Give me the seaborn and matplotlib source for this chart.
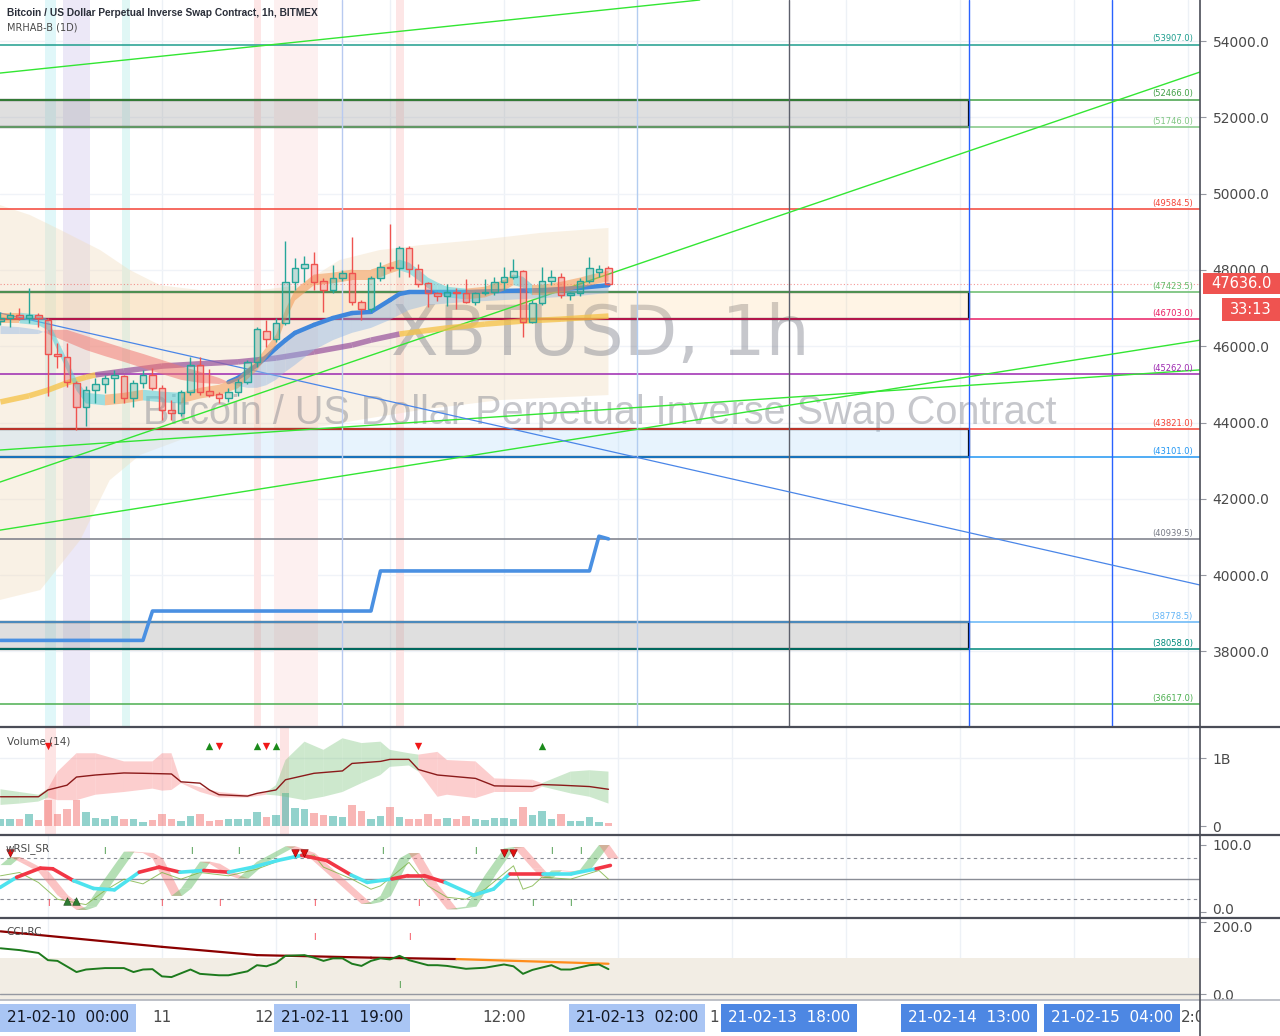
import matplotlib
matplotlib.use("Agg")
import numpy as np
import pandas as pd
import matplotlib.pyplot as plt
import matplotlib.colors as mcolors
import matplotlib.transforms as mtransforms
from matplotlib.patches import Rectangle, Polygon
from matplotlib.lines import Line2D
from matplotlib.ticker import FixedLocator, FixedFormatter
import seaborn as sns

sns.set_theme(style="white")
plt.rcParams['font.family'] = ['DejaVu Sans']

# ---------------- data (hours since 2021-02-10 00:00) ----------------
hours = list(range(7, 72))
opens = [46650, 46740, 46820, 46750, 46820, 46690, 45800, 45720, 45040, 44410,
         44850, 45010, 45160, 45220, 44640, 45040, 45250, 44900, 44330, 44250,
         44800, 45510, 44830, 44740, 44640, 44800, 45060, 45590, 46400, 46200,
         46610, 47680, 48050, 48160, 47700, 47470, 47790, 47920, 47160, 46980,
         47790, 48080, 48050, 48570, 48030, 47650, 47400, 47320, 47420, 47400,
         47160, 47400, 47420, 47680, 47820, 47970, 46640, 47130, 47710, 47820,
         47340, 47400, 47710, 47950, 48050]
highs = [46900, 46900, 47000, 47520, 46880, 46740, 46080, 46080, 45100, 44950,
         45160, 45250, 45380, 45250, 45110, 45380, 45430, 44980, 44590, 44850,
         45720, 45730, 45400, 44800, 44900, 45150, 45640, 46500, 46690, 46740,
         48760, 48310, 48370, 48470, 47790, 48130, 48000, 48860, 47200, 47850,
         48210, 49200, 48630, 48620, 48150, 47680, 47420, 47630, 47530, 47760,
         47420, 47760, 47820, 48080, 48290, 48000, 47200, 48080, 48000, 47920,
         47420, 47790, 48340, 48130, 48100]
lows = [46560, 46500, 46700, 46600, 46500, 44700, 45430, 44930, 43810, 43900,
        44510, 44780, 44510, 44510, 44400, 44900, 44850, 44070, 44070, 44170,
        44720, 44720, 44670, 44500, 44550, 44700, 45000, 45460, 45980, 46100,
        46550, 47470, 47680, 47470, 46900, 47400, 47700, 47080, 46690, 46900,
        47700, 47980, 47820, 47820, 47550, 47030, 47190, 47060, 46980, 47130,
        47080, 47350, 47340, 47470, 47760, 46240, 46610, 47080, 47600, 47260,
        47210, 47320, 47650, 47810, 47600]
closes = [46740, 46820, 46750, 46820, 46740, 45800, 45740, 45060, 44410, 44850,
          45010, 45160, 45250, 44640, 45040, 45250, 44900, 44330, 44250, 44800,
          45510, 44810, 44720, 44640, 44800, 45060, 45590, 46450, 46200, 46610,
          47680, 48050, 48160, 47680, 47470, 47790, 47920, 47160, 46980, 47790,
          48080, 48040, 48570, 48030, 47630, 47400, 47320, 47420, 47400, 47160,
          47400, 47420, 47680, 47820, 47970, 46640, 47130, 47710, 47820, 47340,
          47400, 47710, 48050, 48020, 47636]
volume_m = [107, 98, 98, 172, 84, 382, 172, 245, 382, 201,
            118, 98, 143, 98, 98, 59, 84, 172, 98, 69,
            143, 172, 69, 84, 107, 98, 107, 201, 128, 157,
            490, 260, 250, 191, 157, 143, 128, 304, 216, 98,
            143, 275, 128, 107, 107, 181, 107, 118, 107, 143,
            98, 84, 118, 118, 98, 275, 157, 216, 98, 181,
            69, 69, 128, 54, 49]
last_price = 47636.0
countdown = "33:13"

price_ticks = [38000, 40000, 42000, 44000, 46000, 48000, 50000, 52000, 54000]

level_prices = [53907.0, 52466.0, 51746.0, 49584.5, 47423.5, 46703.0, 45262.0,
                43821.0, 43101.0, 40939.5, 38778.5, 38058.0, 36617.0]
level_colors = ['#1e9e8e', '#43a047', '#81c784', '#f44336', '#66bb6a', '#e91e63', '#9c27b0',
                '#f44336', '#2196f3', '#787b86', '#64b5f6', '#00897b', '#4caf50']

zone_low = [51746.0, 46703.0, 43101.0, 38058.0]
zone_high = [52466.0, 47423.5, 43821.0, 38778.5]
zone_fill = ['#9e9e9e', '#ffcc80', '#bbdefb', '#9e9e9e']
zone_alpha = [0.32, 0.2, 0.35, 0.32]
zone_end_hour = 109

trend_green_h = [[6.95, 80.6], [6.95, 133.3], [6.95, 133.3], [6.95, 133.3]]
trend_green_p = [[53160, 55075], [42440, 53190], [41180, 46160], [43280, 45380]]
trend_blue_h = [6.95, 133.3]
trend_blue_p = [46870, 39740]

mrhab_h = [7, 22, 23, 46, 47, 69, 70, 71]
mrhab_p = [38290, 38290, 39060, 39060, 40110, 40110, 41020, 40950]

env_top_h = [6.95, 10.1, 13.3, 17.5, 20.6, 23.8, 28, 34.3, 38.5, 42.7, 46.9, 51.2, 57.5, 63.8, 71]
env_top_p = [49700, 49440, 49050, 48520, 48000, 47600, 47470, 47470, 47600, 48260, 48520,
             48650, 48790, 48970, 49100]
env_bot_h = [6.95, 11.2, 15.4, 18.5, 21.7, 25.9, 32.2, 38.5, 44.8, 51.2, 59.6, 71]
env_bot_p = [39350, 39610, 40920, 42490, 43150, 43540, 43670, 43800, 44070, 44330, 44590, 44720]

r1_h = [7, 9, 11, 12, 13, 14, 15, 16, 18, 20, 22, 24, 26, 28, 30, 32, 34, 36, 37, 38, 40, 42,
        44, 46, 47, 48, 49, 50, 51, 52, 53, 54, 56, 58, 60, 61, 62, 63, 64, 66, 68, 70, 71]
r1_p = [46740, 46740, 46690, 46560, 46030, 45510, 44980, 44640, 44590, 44640, 44720, 44670,
        44640, 44770, 44850, 45040, 45510, 46160, 46820, 47340, 47740, 47790, 47870, 47870,
        47950, 48050, 48130, 48050, 47870, 47660, 47530, 47420, 47370, 47420, 47600, 47740,
        47680, 47470, 47470, 47550, 47660, 47790, 47840]

r2_h = [7, 9, 11, 12, 14, 16, 18, 20, 22, 24, 26, 28, 30, 31, 32, 33, 34, 35, 36, 37, 38, 40,
        42, 44, 46, 48, 49, 50, 52, 56, 60, 64, 68, 71]
r2_a = [46530, 46500, 46430, 46320, 46110, 45900, 45740, 45590, 45430, 45270, 45120, 45040,
        45010, 45060, 45170, 45330, 45510, 45720, 45950, 46160, 46350, 46560, 46740, 46870,
        46900, 47210, 47370, 47420, 47420, 47420, 47450, 47470, 47530, 47600]
r2_b = [46320, 46320, 46320, 46430, 46430, 46270, 46110, 45950, 45800, 45640, 45480, 45330,
        45170, 45060, 44960, 44910, 44910, 44980, 45120, 45330, 45510, 45900, 46160, 46350,
        46480, 46690, 46820, 46950, 47080, 47160, 47210, 47260, 47320, 47400]

l3_h = [7, 10, 12, 14, 16, 17, 20, 24, 28, 32, 36, 40, 44, 46, 49, 54, 58, 62, 66, 71]
l3_p = [44540, 44700, 44850, 45040, 45190, 45250, 45350, 45480, 45540, 45590, 45690, 45850,
        46030, 46160, 46320, 46480, 46580, 46660, 46710, 46790]

vb_h = [7, 9, 11, 12, 13, 15, 17, 20, 23, 24, 25, 26, 28, 30, 33, 35, 36, 37, 39, 41, 43, 45,
        47, 48, 50, 51, 53, 54, 57, 59, 63, 64, 67, 69, 71]
vb_up = [0.54, 0.50, 0.46, 0.55, 0.80, 1.07, 1.07, 0.95, 0.95, 1.07, 1.07, 0.65, 0.57, 0.50,
         0.46, 0.50, 0.60, 0.97, 1.24, 1.12, 1.29, 1.22, 1.24, 1.12, 1.07, 1.05, 1.09, 0.97,
         0.95, 0.70, 0.68, 0.63, 0.80, 0.82, 0.80]
vb_lo = [0.31, 0.33, 0.36, 0.42, 0.38, 0.38, 0.46, 0.50, 0.55, 0.52, 0.53, 0.63, 0.50, 0.42,
         0.42, 0.46, 0.45, 0.43, 0.38, 0.43, 0.50, 0.63, 0.75, 0.87, 0.89, 0.80, 0.43, 0.46,
         0.41, 0.50, 0.50, 0.58, 0.48, 0.43, 0.33]
vb_state = ['g', 'g', 'g', 'r', 'r', 'r', 'r', 'r', 'r', 'r', 'r', 'r', 'r', 'r', 'r', 'g', 'g',
            'g', 'g', 'g', 'g', 'g', 'g', 'g', 'g', 'r', 'r', 'r', 'r', 'r', 'r', 'g', 'g', 'g', 'g']
vl_h = [7, 11, 12, 14, 15, 17, 20, 22, 25, 26, 28, 29, 30, 33, 34, 36, 37, 40, 43, 44, 47, 48,
        50, 51, 53, 57, 59, 63, 64, 66, 69, 71]
vl_v = [0.43, 0.43, 0.53, 0.60, 0.72, 0.75, 0.78, 0.775, 0.765, 0.65, 0.63, 0.53, 0.46, 0.44,
        0.48, 0.53, 0.68, 0.775, 0.81, 0.92, 0.95, 0.98, 0.98, 0.83, 0.75, 0.70, 0.59, 0.58,
        0.61, 0.60, 0.58, 0.54]
vol_tri_up = [29, 34, 36, 64]
vol_tri_down = [12, 30, 35, 51]

rsi_h = [6.95, 8.7, 11.2, 12.5, 14.7, 16.8, 19, 21.6, 23.7, 25.9, 28.4, 31, 33.6, 36.2, 38.7,
         41.3, 43.9, 45.6, 48.2, 49.9, 51.6, 53.8, 56.8, 58.9, 60.6, 64.1, 67.1, 69.7, 71.2]
rsi_v = [36.6, 51.8, 65.5, 64.5, 46.7, 35.1, 33.1, 59.4, 67, 59.4, 62, 59.4, 67, 77, 84.6, 77,
         55.3, 44.2, 49.3, 54.3, 54.3, 44.2, 25.1, 34.2, 56.9, 56.9, 56.9, 64.5, 69.5]
rsi_state = ['c', 'r', 'r', 'r', 'c', 'c', 'c', 'r', 'r', 'c', 'r', 'c', 'c', 'c', 'r', 'r', 'c',
             'c', 'r', 'r', 'r', 'c', 'c', 'c', 'r', 'c', 'c', 'r', 'r']
fast_h = [7, 8, 9, 11, 13, 15, 16, 18, 20, 22, 23, 25, 26, 28, 29, 31, 32, 34, 37, 39, 42, 45,
          46, 47, 49, 50, 52, 54, 56, 58, 60, 61, 63, 64, 65, 67, 68, 70, 71]
fast_v = [70, 82, 75, 60, 25, 3, 8, 50, 90, 88, 80, 24, 35, 75, 72, 55, 50, 75, 98, 88, 50, 12,
          15, 24, 80, 88, 40, 4, 8, 55, 95, 97, 65, 50, 62, 60, 63, 100, 80]
thin_h = [7, 9, 11, 13, 16, 18, 20, 22, 24, 26, 28, 31, 34, 37, 40, 41, 44, 46, 47, 50, 52, 54,
          56, 58, 61, 62, 63, 64, 67, 70, 71]
thin_v = [54, 59, 44, 19, 11, 32, 49, 42, 59, 49, 59, 54, 64, 80, 85, 67, 49, 34, 39, 74, 39, 22,
          19, 34, 69, 34, 39, 52, 49, 62, 49]
rsi_top_green_i = [17.9, 27.1, 32, 47.2, 57, 65, 68]
rsi_bot_red_i = [12, 23.9, 30, 40, 51]
rsi_bot_green_i = [63, 67]
rsi_tri_down = [8, 38, 39, 60, 61]
rsi_tri_up = [14, 15]

cci_h = [7, 9, 11, 12, 13, 15, 16, 18, 20, 21, 22, 23, 24, 25, 27, 28, 30, 31, 33, 34, 35, 36,
         37, 39, 40, 41, 42, 43, 44, 45, 46, 47, 48, 49, 50, 52, 53, 54, 56, 58, 60, 61, 62, 63,
         65, 66, 67, 69, 70, 71]
cci_v = [127, 122, 114, 94, 92, 61, 68, 72, 72, 61, 68, 69, 49, 47, 68, 56, 52, 52, 63, 80, 77,
         86, 106, 108, 101, 92, 99, 99, 84, 78, 92, 99, 96, 106, 94, 80, 80, 78, 70, 73, 82, 77,
         56, 67, 80, 68, 68, 80, 82, 69]
cci_slow_h = [7, 11, 24, 34, 46, 55, 71]
cci_slow_v = [174, 164, 131, 108, 101, 97, 84]
cci_red_i = [40, 50]
cci_green_i = [38, 49]

bands_main = [(11.7, 12.8, '#e0f7f9'), (13.6, 16.4, '#ece8f7'), (19.8, 20.6, '#e0f7f5'),
              (33.7, 34.4, '#fde6e6'), (35.8, 40.4, '#fdf0f0'), (48.6, 49.5, '#fde6e6')]
bands_vol = [(11.7, 12.8, '#fde4e4'), (36.4, 37.4, '#fde4e4')]
marker_lines_h = [43, 74, 90, 109, 124]
marker_lines_c = ['#b8caf0', '#b3cdf0', '#5d606b', '#2962ff', '#2962ff']

# time-axis labels: fully visible ones, and the visible parts of labels half covered by boxes
time_plain = [(24, '11', 'center'), (60, '12:00', 'center')]
time_partial = [(35.7, '12', 'right'), (82.6, '1', 'right'), (131.3, '2:0', 'left')]
time_boxes = [(43, '21-02-11  19:00', 'light'), (74, '21-02-13  02:00', 'light'),
              (90, '21-02-13  18:00', 'dark'), (109, '21-02-14  13:00', 'dark'),
              (124, '21-02-15  04:00', 'dark')]
first_box_label = '21-02-10  00:00'

# ---------------- layout ----------------
W, H = 1280, 1036
PX_PER_H = 9.5
X0_H = 6.95
X1_H = X0_H + 1200 / PX_PER_H
GREEN, RED = '#26a69a', '#ef5350'

fig = plt.figure(figsize=(W / 100, H / 100), dpi=100)
fig.patch.set_facecolor('white')


def fy(py):
    return 1 - py / H


def panel(top, bot):
    ax = fig.add_axes([0, fy(bot), 1200 / W, (bot - top) / H])
    for s in ax.spines.values():
        s.set_visible(False)
    ax.set_facecolor('white')
    ax.xaxis.set_visible(False)
    ax.yaxis.tick_right()
    ax.tick_params(axis='y', which='both', length=4, width=0.8, color='#9598a1',
                   labelsize=10, labelcolor='#4a4a4a', pad=5, right=True, left=False)
    for hh in range(12, 134, 12):
        ax.axvline(hh, color='#edf1f6', lw=1, zorder=0)
    return ax


def nudge_label(axis_obj, index, dy_pt):
    fig.canvas.draw()
    lab = axis_obj.yaxis.get_ticklabels()[index]
    lab.set_transform(lab.get_transform() +
                      mtransforms.ScaledTranslation(0, dy_pt / 72, fig.dpi_scale_trans))


# ---------------- main price panel ----------------
ax = panel(0, 727)
for p in price_ticks:
    ax.axhline(p, color='#f0f3f8', lw=1, zorder=0)
for a, b, c in bands_main:
    ax.axvspan(a, b, color=c, lw=0, zorder=0.5)

env_poly = list(zip(env_top_h, env_top_p)) + list(zip(env_bot_h[::-1], env_bot_p[::-1]))
ax.add_patch(Polygon(env_poly, closed=True, facecolor='#f0d9b5', alpha=0.35, lw=0, zorder=1))

ax.text(600 / 1200, 1 - 355 / 727, 'XBTUSD, 1h', transform=ax.transAxes, ha='center',
        va='baseline', fontsize=50, color='#787b86', alpha=0.42, zorder=1.2)
ax.text(600 / 1200, 1 - 424 / 727, 'Bitcoin / US Dollar Perpetual Inverse Swap Contract',
        transform=ax.transAxes, ha='center', va='baseline', fontsize=28.5, color='#787b86',
        alpha=0.42, zorder=1.2, family=['Liberation Sans', 'DejaVu Sans'])

for lo, hi, fc, al in zip(zone_low, zone_high, zone_fill, zone_alpha):
    ax.add_patch(Rectangle((X0_H - 1, lo), zone_end_hour - X0_H + 1, hi - lo,
                           facecolor=mcolors.to_rgba(fc, al), edgecolor='black', lw=1.6, zorder=2))

for p, c in zip(level_prices, level_colors):
    ax.axhline(p, color=c, lw=1.1, zorder=3)
    ax.text(X0_H + 1193 / PX_PER_H, p + 30, f'({p:.1f})', ha='right', va='bottom',
            fontsize=6, color=c, zorder=9)

for mh, mc in zip(marker_lines_h, marker_lines_c):
    ax.axvline(mh, color=mc, lw=1, zorder=3)

for th, tp in zip(trend_green_h, trend_green_p):
    ax.plot(th, tp, color='#33e633', lw=1, zorder=4)
ax.plot(trend_blue_h, trend_blue_p, color='#4a86e8', lw=0.9, zorder=4)

# slow line (yellow / purple)
for i in range(len(l3_h) - 1):
    col = '#9c5aa0' if 17 <= l3_h[i] < 49 else '#f6c244'
    ax.plot(l3_h[i:i + 2], l3_p[i:i + 2], color=col, lw=4, alpha=0.75,
            solid_capstyle='butt', zorder=4)

# medium ribbon (red / blue)
for i in range(len(r2_h) - 1):
    pts = [(r2_h[i], r2_a[i]), (r2_h[i + 1], r2_a[i + 1]), (r2_h[i + 1], r2_b[i + 1]), (r2_h[i], r2_b[i])]
    bull = (r2_a[i] + r2_a[i + 1]) >= (r2_b[i] + r2_b[i + 1])
    ax.add_patch(Polygon(pts, closed=True, lw=0, zorder=4,
                         facecolor=mcolors.to_rgba('#8fb6e6' if bull else '#f07a74', 0.45 if bull else 0.55)))
for i in range(len(r2_h) - 1):
    if r2_h[i] >= 31 and r2_a[i] >= r2_b[i]:
        ax.plot(r2_h[i:i + 2], r2_a[i:i + 2], color='#3f87dc', lw=3.2, solid_capstyle='round', zorder=4.5)

# fast ribbon (orange / cyan)
w1 = 140
for i in range(len(r1_h) - 1):
    up = r1_p[i + 1] >= r1_p[i]
    pts = [(r1_h[i], r1_p[i] + w1), (r1_h[i + 1], r1_p[i + 1] + w1),
           (r1_h[i + 1], r1_p[i + 1] - w1), (r1_h[i], r1_p[i] - w1)]
    ax.add_patch(Polygon(pts, closed=True, lw=0, zorder=4.6,
                         facecolor=mcolors.to_rgba('#f59a55' if up else '#54cfdc', 0.55)))

# daily MRHAB step line (seaborn)
sns.lineplot(x=mrhab_h, y=mrhab_p, ax=ax, color='#4a90e2', lw=2.6, zorder=5, sort=False)

# candles
for hh, o, hi, lo, c in zip(hours, opens, highs, lows, closes):
    col = GREEN if c >= o else RED
    top, bot = max(o, c), min(o, c)
    ax.vlines(hh, top, hi, color=col, lw=1, zorder=6)
    ax.vlines(hh, lo, bot, color=col, lw=1, zorder=6)
    ax.add_patch(Rectangle((hh - 0.33, bot), 0.66, max(top - bot, 20),
                           facecolor=mcolors.to_rgba(col, 0.28), edgecolor=col, lw=1, zorder=6))

ax.axhline(last_price, color=RED, ls=(0, (1, 2)), lw=0.8, alpha=0.6, zorder=3)
ax.set_xlim(X0_H, X1_H)
ax.set_ylim(36020, 55075)
ax.yaxis.set_major_locator(FixedLocator(price_ticks))
ax.yaxis.set_major_formatter(FixedFormatter([f'{p:.1f}' for p in price_ticks]))
ax.set_xlabel('')
ax.set_ylabel('')

# ---------------- volume panel ----------------
axv = panel(727, 835)
for a, b, c in bands_vol:
    axv.axvspan(a, b, color=c, lw=0, zorder=0.5)
axv.axhline(1.0, color='#eef1f6', lw=1, zorder=0)
vcols = [mcolors.to_rgba(GREEN, 0.5) if c >= o else mcolors.to_rgba(RED, 0.42)
         for o, c in zip(opens, closes)]
axv.bar(hours, [v / 1000 for v in volume_m], width=0.8, color=vcols, lw=0, zorder=2)
for i in range(len(vb_h) - 1):
    pts = [(vb_h[i], vb_up[i]), (vb_h[i + 1], vb_up[i + 1]), (vb_h[i + 1], vb_lo[i + 1]), (vb_h[i], vb_lo[i])]
    col = '#7cc47c' if vb_state[i] == 'g' else '#f88080'
    axv.add_patch(Polygon(pts, closed=True, lw=0, facecolor=mcolors.to_rgba(col, 0.38), zorder=3))
sns.lineplot(x=vl_h, y=vl_v, ax=axv, color='#8b1a1a', lw=1, zorder=4, sort=False)
axv.scatter(vol_tri_up, [1.175] * len(vol_tri_up), marker='^', s=28, color='#1b8a1b', zorder=5, lw=0)
axv.scatter(vol_tri_down, [1.175] * len(vol_tri_down), marker='v', s=28, color='#f01818', zorder=5, lw=0)
axv.text(0.006, 1 - 14 / 108, 'Volume (14)', transform=axv.transAxes, fontsize=7.5,
         color='#4a4a4a', va='center', ha='left', zorder=6)
axv.set_xlim(X0_H, X1_H)
axv.set_ylim(-9 / 68, 99 / 68)
axv.yaxis.set_major_locator(FixedLocator([0, 1.0]))
axv.yaxis.set_major_formatter(FixedFormatter(['0', '1B']))
axv.set_xlabel('')
axv.set_ylabel('')

# ---------------- RSI panel ----------------
axr = panel(835, 918)
axr.axhline(80, color='#8a8d96', ls=(0, (3, 3)), lw=0.8, zorder=1)
axr.axhline(20, color='#8a8d96', ls=(0, (3, 3)), lw=0.8, zorder=1)
axr.axhline(50, color='#8a8d96', lw=1, zorder=1)
d = 1.1
for i in range(len(fast_h) - 1):
    up = fast_v[i + 1] >= fast_v[i]
    pts = [(fast_h[i], fast_v[i]), (fast_h[i + 1], fast_v[i + 1]),
           (fast_h[i + 1] + d, fast_v[i + 1]), (fast_h[i] + d, fast_v[i])]
    axr.add_patch(Polygon(pts, closed=True, lw=0, zorder=2,
                          facecolor=mcolors.to_rgba('#5cb85c' if up else '#f77b7b', 0.45)))
sns.lineplot(x=thin_h, y=thin_v, ax=axr, color='#7cb342', lw=0.7, alpha=0.8, zorder=3, sort=False)
for i in range(len(rsi_h) - 1):
    col = '#f23645' if rsi_state[i] == 'r' else '#4de3ee'
    axr.plot(rsi_h[i:i + 2], rsi_v[i:i + 2], color=col, lw=2.6, solid_capstyle='round', zorder=4)
for hh in rsi_top_green_i:
    axr.text(hh, 91, 'I', color='#2e8b2e', fontsize=6, ha='center', va='center', zorder=5)
for hh in rsi_bot_red_i:
    axr.text(hh, 13, 'I', color='#f23645', fontsize=6, ha='center', va='center', zorder=5)
for hh in rsi_bot_green_i:
    axr.text(hh, 13, 'I', color='#2e8b2e', fontsize=6, ha='center', va='center', zorder=5)
axr.scatter(rsi_tri_down, [88] * len(rsi_tri_down), marker='v', s=30, color='#e01010',
            edgecolor='#7a0000', lw=0.4, zorder=6)
axr.scatter(rsi_tri_up, [16] * len(rsi_tri_up), marker='^', s=30, color='#2e7d32',
            edgecolor='#1b4d1b', lw=0.4, zorder=6)
axr.text(0.005, 1 - 14 / 83, 'wRSI_SR', transform=axr.transAxes, fontsize=7.5,
         color='#4a4a4a', va='center', ha='left', zorder=7)
axr.set_xlim(X0_H, X1_H)
axr.set_ylim(-6 / 0.67, 77 / 0.67)
axr.yaxis.set_major_locator(FixedLocator([0, 100]))
axr.yaxis.set_major_formatter(FixedFormatter(['0.0', '100.0']))
axr.set_xlabel('')
axr.set_ylabel('')

# ---------------- CCI panel ----------------
axc = panel(918, 1000)
axc.axhspan(-20, 100, color='#f2ede4', lw=0, zorder=0.6)
axc.axhline(0, color='#9598a1', lw=1, zorder=1)
for i in range(len(cci_slow_h) - 1):
    col = '#8b0000' if cci_slow_h[i] < 55 else '#ff8c1a'
    axc.plot(cci_slow_h[i:i + 2], cci_slow_v[i:i + 2], color=col, lw=1.6, zorder=3)
sns.lineplot(x=cci_h, y=cci_v, ax=axc, color='#1d7a1d', lw=1.4, zorder=4, sort=False)
for hh in cci_red_i:
    axc.text(hh, 158, 'I', color='#f23645', fontsize=6, ha='center', va='center', zorder=5)
for hh in cci_green_i:
    axc.text(hh, 25, 'I', color='#2e8b2e', fontsize=6, ha='center', va='center', zorder=5)
axc.text(0.005, 1 - 14 / 82, 'CCI-RC', transform=axc.transAxes, fontsize=7.5,
         color='#4a4a4a', va='center', ha='left', zorder=7)
axc.set_xlim(X0_H, X1_H)
axc.set_ylim(-6 / 0.36, 76 / 0.36)
axc.yaxis.set_major_locator(FixedLocator([0, 200]))
axc.yaxis.set_major_formatter(FixedFormatter(['0.0', '200.0']))
axc.set_xlabel('')
axc.set_ylabel('')

# keep the touching "0.0" / "200.0" labels of adjacent panes apart
nudge_label(axr, 0, 2.5)
nudge_label(axc, 1, -3.0)

# ---------------- time axis ----------------
axt = fig.add_axes([0, 0, 1200 / W, 36 / H])
axt.set_xlim(X0_H, X1_H)
axt.set_ylim(0, 1)
axt.axis('off')
for hh, s, ha_ in time_plain + time_partial:
    axt.text(hh, 0.5, s, ha=ha_, va='center', fontsize=11, color='#4a4a4a', zorder=1, clip_on=True)
light_box = dict(boxstyle='square,pad=0.45', fc='#a9c5f4', ec='none')
dark_box = dict(boxstyle='square,pad=0.45', fc='#4d87e3', ec='none')
axt.text(X0_H + 7 / PX_PER_H, 0.5, first_box_label, ha='left', va='center', fontsize=11,
         color='#131722', bbox=light_box, zorder=3)
for hh, s, kind in time_boxes:
    axt.text(hh, 0.5, s, ha='center', va='center', fontsize=11,
             color='#131722' if kind == 'light' else 'white',
             bbox=light_box if kind == 'light' else dark_box, zorder=3, clip_on=True)

# ---------------- separators, axis line, title, price tag ----------------
for yy, col, lw in [(727, '#4a4d57', 1.6), (835, '#4a4d57', 1.6), (918, '#4a4d57', 1.6), (1000, '#b2b5be', 1.2)]:
    fig.add_artist(Line2D([0, 1], [fy(yy), fy(yy)], transform=fig.transFigure, color=col, lw=lw))
fig.add_artist(Line2D([1200 / W, 1200 / W], [fy(1036), 1], transform=fig.transFigure,
                      color='#4a4d57', lw=1.2))

fig.text(7 / W, fy(13), 'Bitcoin / US Dollar Perpetual Inverse Swap Contract, 1h, BITMEX',
         fontsize=7.3, fontweight='bold', color='#2a2e39', va='center', ha='left',
         family=['Liberation Sans', 'DejaVu Sans'])
fig.text(7 / W, fy(27), 'MRHAB-B (1D)', fontsize=7, color='#4a4a4a', va='center', ha='left')

fig.add_artist(Rectangle((1203 / W, fy(294)), 77 / W, 21 / H, transform=fig.transFigure,
                         facecolor='#ef5350', edgecolor='none'))
fig.text(1241 / W, fy(283.5), f'{last_price:.1f}', color='white', fontsize=10.5,
         ha='center', va='center')
fig.add_artist(Rectangle((1222 / W, fy(321)), 58 / W, 23 / H, transform=fig.transFigure,
                         facecolor='#ef5350', edgecolor='none'))
fig.text(1251 / W, fy(309.5), countdown, color='white', fontsize=10.5, ha='center', va='center')

fig.savefig('out.png', dpi=100, facecolor='white')
